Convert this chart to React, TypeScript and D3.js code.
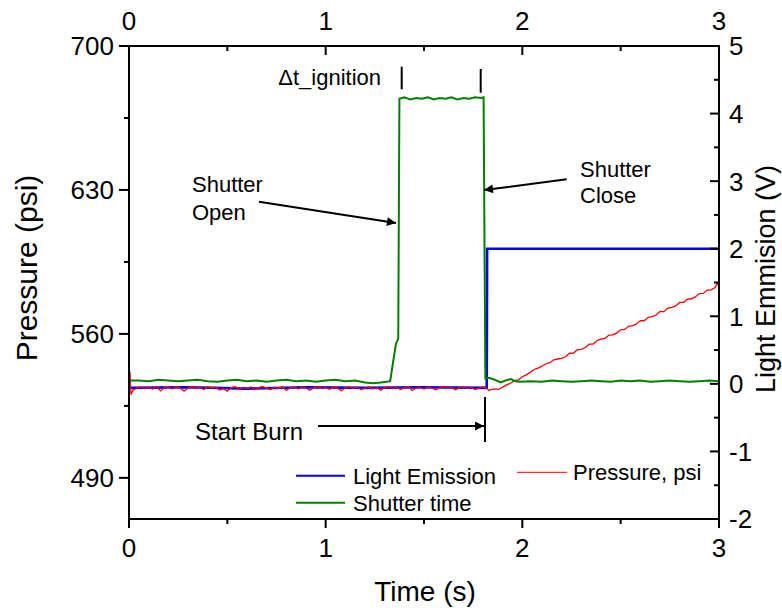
import React from 'react';
import * as d3 from 'd3';

// Axis tick values
const timeTicks = [0, 1, 2, 3];
const timeMinorTicks = [0.5, 1.5, 2.5];
const pressureTicks = [490, 560, 630, 700];
const pressureMinorTicks = [525, 595, 665];
const voltTicks = [-2, -1, 0, 1, 2, 3, 4, 5];
const voltMinorTicks = [-1.5, -0.5, 0.5, 1.5, 2.5, 3.5, 4.5];

// Light emission signal (V) vs time (s)
const lightEmission: [number, number][] = [
  [0, -0.06], [0.3, -0.05], [0.6, -0.07], [0.9, -0.05], [1.2, -0.06],
  [1.5, -0.05], [1.819, -0.06], [1.821, 2.0], [3.0, 2.0],
];

// Shutter signal (V) vs time (s)
const shutterTime: [number, number][] = [
  [0, 0.05], [0.05, 0.05], [0.1, 0.04], [0.15, 0.06], [0.2, 0.05], [0.25, 0.04],
  [0.3, 0.05], [0.35, 0.06], [0.4, 0.04], [0.45, 0.03], [0.5, 0.05], [0.55, 0.06],
  [0.6, 0.04], [0.65, 0.05], [0.7, 0.03], [0.75, 0.05], [0.8, 0.06], [0.85, 0.04],
  [0.9, 0.05], [0.95, 0.03], [1.0, 0.05], [1.05, 0.06], [1.1, 0.04], [1.15, 0.05],
  [1.2, 0.02], [1.24, 0.01], [1.28, 0.02], [1.31, 0.03], [1.328, 0.04],
  [1.357, 0.59], [1.369, 0.67], [1.375, 4.22], [1.40, 4.24], [1.43, 4.21],
  [1.46, 4.23], [1.49, 4.22], [1.52, 4.24], [1.55, 4.21], [1.58, 4.23],
  [1.61, 4.22], [1.64, 4.24], [1.67, 4.21], [1.70, 4.23], [1.73, 4.22],
  [1.76, 4.24], [1.79, 4.23], [1.803, 4.24], [1.812, 0.08], [1.83, 0.09],
  [1.86, 0.06], [1.89, 0.02], [1.915, 0.05], [1.94, 0.07], [1.965, 0.04],
  [1.99, 0.03], [2.04, 0.04], [2.1, 0.03], [2.15, 0.05], [2.2, 0.04], [2.25, 0.03],
  [2.3, 0.04], [2.35, 0.05], [2.4, 0.04], [2.45, 0.03], [2.5, 0.05], [2.55, 0.04],
  [2.6, 0.05], [2.65, 0.03], [2.7, 0.04], [2.75, 0.05], [2.8, 0.04], [2.85, 0.03],
  [2.9, 0.04], [2.95, 0.05], [3.0, 0.04],
];

// Chamber pressure (psi) vs time (s)
const pressure: [number, number][] = [
  [0.0, 537.0], [0.005, 541.5], [0.01, 530.4], [0.02, 532.6], [0.04, 533.7],
  [0.06, 534.2], [0.08, 533.4], [0.10, 534.1], [0.12, 533.2], [0.14, 534.4],
  [0.16, 532.3], [0.18, 533.9], [0.20, 534.1], [0.22, 533.3], [0.24, 534.3],
  [0.26, 533.8], [0.28, 532.2], [0.30, 533.7], [0.32, 534.4], [0.34, 533.6],
  [0.36, 534.0], [0.38, 533.0], [0.40, 534.3], [0.42, 533.7], [0.44, 534.1],
  [0.46, 532.7], [0.48, 533.4], [0.50, 532.1], [0.52, 533.9], [0.54, 534.3],
  [0.56, 533.2], [0.58, 534.0], [0.60, 533.5], [0.62, 534.2], [0.64, 532.8],
  [0.66, 533.9], [0.68, 534.4], [0.70, 533.5], [0.72, 533.0], [0.74, 534.1],
  [0.76, 533.6], [0.78, 534.3], [0.80, 532.5], [0.82, 533.8], [0.84, 534.0],
  [0.86, 533.3], [0.88, 534.2], [0.90, 533.7], [0.92, 532.6], [0.94, 533.9],
  [0.96, 534.4], [0.98, 533.4], [1.00, 534.0], [1.02, 533.1], [1.04, 534.3],
  [1.06, 533.6], [1.08, 532.4], [1.10, 533.8], [1.12, 534.2], [1.14, 533.5],
  [1.16, 534.1], [1.18, 532.9], [1.20, 533.7], [1.22, 534.3], [1.24, 533.3],
  [1.26, 534.0], [1.28, 532.6], [1.30, 533.9], [1.32, 534.2], [1.34, 533.4],
  [1.36, 534.1], [1.38, 533.0], [1.40, 533.8], [1.42, 534.4], [1.44, 532.5],
  [1.46, 533.7], [1.48, 534.0], [1.50, 533.2], [1.52, 534.2], [1.54, 533.6],
  [1.56, 532.8], [1.58, 533.9], [1.60, 534.3], [1.62, 533.5], [1.64, 534.0],
  [1.66, 532.9], [1.68, 533.8], [1.70, 534.2], [1.72, 533.4], [1.74, 534.1],
  [1.76, 533.0], [1.78, 533.7], [1.80, 534.2], [1.82, 533.6], [1.83, 532.4],
  [1.84, 532.9], [1.86, 533.3], [1.88, 533.0], [1.90, 534.1], [1.92, 535.2],
  [1.94, 536.0], [1.96, 537.3], [1.98, 537.6], [2.00, 539.2], [2.02, 540.1],
  [2.04, 541.3], [2.06, 542.7], [2.08, 543.4], [2.10, 544.3], [2.12, 545.5],
  [2.14, 546.0], [2.16, 547.4], [2.18, 547.8], [2.20, 548.1], [2.22, 548.9],
  [2.24, 550.6], [2.26, 550.7], [2.28, 552.3], [2.30, 552.5], [2.32, 553.4],
  [2.34, 555.0], [2.36, 555.1], [2.38, 556.8], [2.40, 557.5], [2.42, 557.8],
  [2.44, 559.4], [2.46, 559.5], [2.48, 560.4], [2.50, 562.0], [2.52, 562.2],
  [2.54, 563.7], [2.56, 564.0], [2.58, 564.8], [2.60, 566.5], [2.62, 566.4],
  [2.64, 568.1], [2.66, 568.4], [2.68, 569.2], [2.70, 570.9], [2.72, 570.8],
  [2.74, 572.6], [2.76, 572.9], [2.78, 573.6], [2.80, 575.3], [2.82, 575.4],
  [2.84, 576.9], [2.86, 577.1], [2.88, 578.0], [2.90, 579.6], [2.92, 579.7],
  [2.94, 581.3], [2.96, 581.4], [2.98, 582.6], [2.99, 584.6], [3.00, 583.2],
];

const W = 782;
const H = 612;
const plot = { left: 129, right: 719, top: 46, bottom: 519 };
const FONT = '"Liberation Sans", Arial, Helvetica, sans-serif';

export default function App() {
  const x = d3.scaleLinear().domain([0, 3]).range([plot.left, plot.right]);
  const yP = d3.scaleLinear().domain([470, 700]).range([plot.bottom, plot.top]);
  const yV = d3.scaleLinear().domain([-2, 5]).range([plot.bottom, plot.top]);

  const voltLine = d3.line<[number, number]>().x((d) => x(d[0])).y((d) => yV(d[1]));
  const psiLine = d3.line<[number, number]>().x((d) => x(d[0])).y((d) => yP(d[1]));

  const tickFs = 26;
  const titleFs = 28;

  return (
    <svg
      width={W}
      height={H}
      style={{ position: 'absolute', left: 0, top: 0, background: '#fff' }}
      fontFamily={FONT}
    >
      <defs>
        <marker id="arrowhead" viewBox="0 0 10 10" refX="10" refY="5"
          markerWidth="14" markerHeight="9" markerUnits="userSpaceOnUse" orient="auto">
          <path d="M0,0 L10,5 L0,10 z" fill="#000" />
        </marker>
        <clipPath id="plotClip">
          <rect x={plot.left} y={plot.top} width={plot.right - plot.left} height={plot.bottom - plot.top} />
        </clipPath>
      </defs>
      <rect x={0} y={0} width={W} height={H} fill="#fff" />

      {/* series */}
      <g clipPath="url(#plotClip)" fill="none">
        <path d={voltLine(lightEmission) || ''} stroke="#0000ff" strokeWidth={2.6} />
        <path d={psiLine(pressure) || ''} stroke="#ff0000" strokeWidth={1.3} />
        <path d={voltLine(shutterTime) || ''} stroke="#008000" strokeWidth={2} />
      </g>

      {/* frame */}
      <rect x={plot.left} y={plot.top} width={plot.right - plot.left} height={plot.bottom - plot.top}
        fill="none" stroke="#000" strokeWidth={2} />

      {/* bottom axis: ticks outward */}
      {timeTicks.map((t) => (
        <g key={'b' + t}>
          <line x1={x(t)} x2={x(t)} y1={plot.bottom} y2={plot.bottom + 9} stroke="#000" strokeWidth={2} />
          <text x={x(t)} y={557} fontSize={tickFs} textAnchor="middle">{t}</text>
        </g>
      ))}
      {timeMinorTicks.map((t) => (
        <line key={'bm' + t} x1={x(t)} x2={x(t)} y1={plot.bottom} y2={plot.bottom + 5} stroke="#000" strokeWidth={2} />
      ))}

      {/* top axis: ticks inward */}
      {timeTicks.map((t) => (
        <g key={'t' + t}>
          <line x1={x(t)} x2={x(t)} y1={plot.top} y2={plot.top + 9} stroke="#000" strokeWidth={2} />
          <text x={x(t)} y={29.5} fontSize={tickFs} textAnchor="middle">{t}</text>
        </g>
      ))}
      {timeMinorTicks.map((t) => (
        <line key={'tm' + t} x1={x(t)} x2={x(t)} y1={plot.top} y2={plot.top + 5} stroke="#000" strokeWidth={2} />
      ))}

      {/* left axis: pressure, ticks outward */}
      {pressureTicks.map((v) => (
        <g key={'l' + v}>
          <line x1={plot.left - 10} x2={plot.left} y1={yP(v)} y2={yP(v)} stroke="#000" strokeWidth={2} />
          <text x={114} y={yP(v)} dy="0.36em" fontSize={tickFs} textAnchor="end">{v}</text>
        </g>
      ))}
      {pressureMinorTicks.map((v) => (
        <line key={'lm' + v} x1={plot.left - 5} x2={plot.left} y1={yP(v)} y2={yP(v)} stroke="#000" strokeWidth={2} />
      ))}

      {/* right axis: voltage, ticks inward */}
      {voltTicks.map((v) => (
        <g key={'r' + v}>
          <line x1={plot.right - 9} x2={plot.right} y1={yV(v)} y2={yV(v)} stroke="#000" strokeWidth={2} />
          <text x={729} y={yV(v)} dy="0.36em" fontSize={tickFs} textAnchor="start">{v}</text>
        </g>
      ))}
      {voltMinorTicks.map((v) => (
        <line key={'rm' + v} x1={plot.right - 5} x2={plot.right} y1={yV(v)} y2={yV(v)} stroke="#000" strokeWidth={2} />
      ))}

      {/* axis titles */}
      <text x={425} y={601} fontSize={titleFs} textAnchor="middle">Time (s)</text>
      <text transform="translate(37,268) rotate(-90)" fontSize={30} textAnchor="middle">Pressure (psi)</text>
      <text transform="translate(775,279) rotate(-90)" fontSize={27} textAnchor="middle">Light Emmision (V)</text>

      {/* annotations */}
      <g fontSize={22}>
        <text x={381} y={85} textAnchor="end">Δt_ignition</text>
        <text x={192} y={192}>Shutter</text>
        <text x={192} y={220}>Open</text>
        <text x={580} y={177}>Shutter</text>
        <text x={580} y={203}>Close</text>
      </g>
      <text x={195} y={440} fontSize={24}>Start Burn</text>
      <g stroke="#000" strokeWidth={2}>
        <line x1={401.7} x2={401.7} y1={66.7} y2={89.3} />
        <line x1={480.7} x2={480.7} y1={69} y2={92.7} />
        <line x1={485} x2={485} y1={397} y2={442} />
        <line x1={259} y1={201.7} x2={396} y2={223} markerEnd="url(#arrowhead)" />
        <line x1={566.7} y1={179.3} x2={484} y2={190} markerEnd="url(#arrowhead)" />
        <line x1={318} y1={426} x2={484} y2={426} markerEnd="url(#arrowhead)" />
      </g>

      {/* legend */}
      <g fontSize={22}>
        <line x1={296} x2={345} y1={475.7} y2={475.7} stroke="#0000ff" strokeWidth={2} />
        <text x={353} y={483.5}>Light Emission</text>
        <line x1={296} x2={345} y1={502.7} y2={502.7} stroke="#008000" strokeWidth={2} />
        <text x={353} y={510.7}>Shutter time</text>
        <line x1={517} x2={567} y1={472.3} y2={472.3} stroke="#ff0000" strokeWidth={1} />
        <text x={573} y={479.5}>Pressure, psi</text>
      </g>
    </svg>
  );
}
